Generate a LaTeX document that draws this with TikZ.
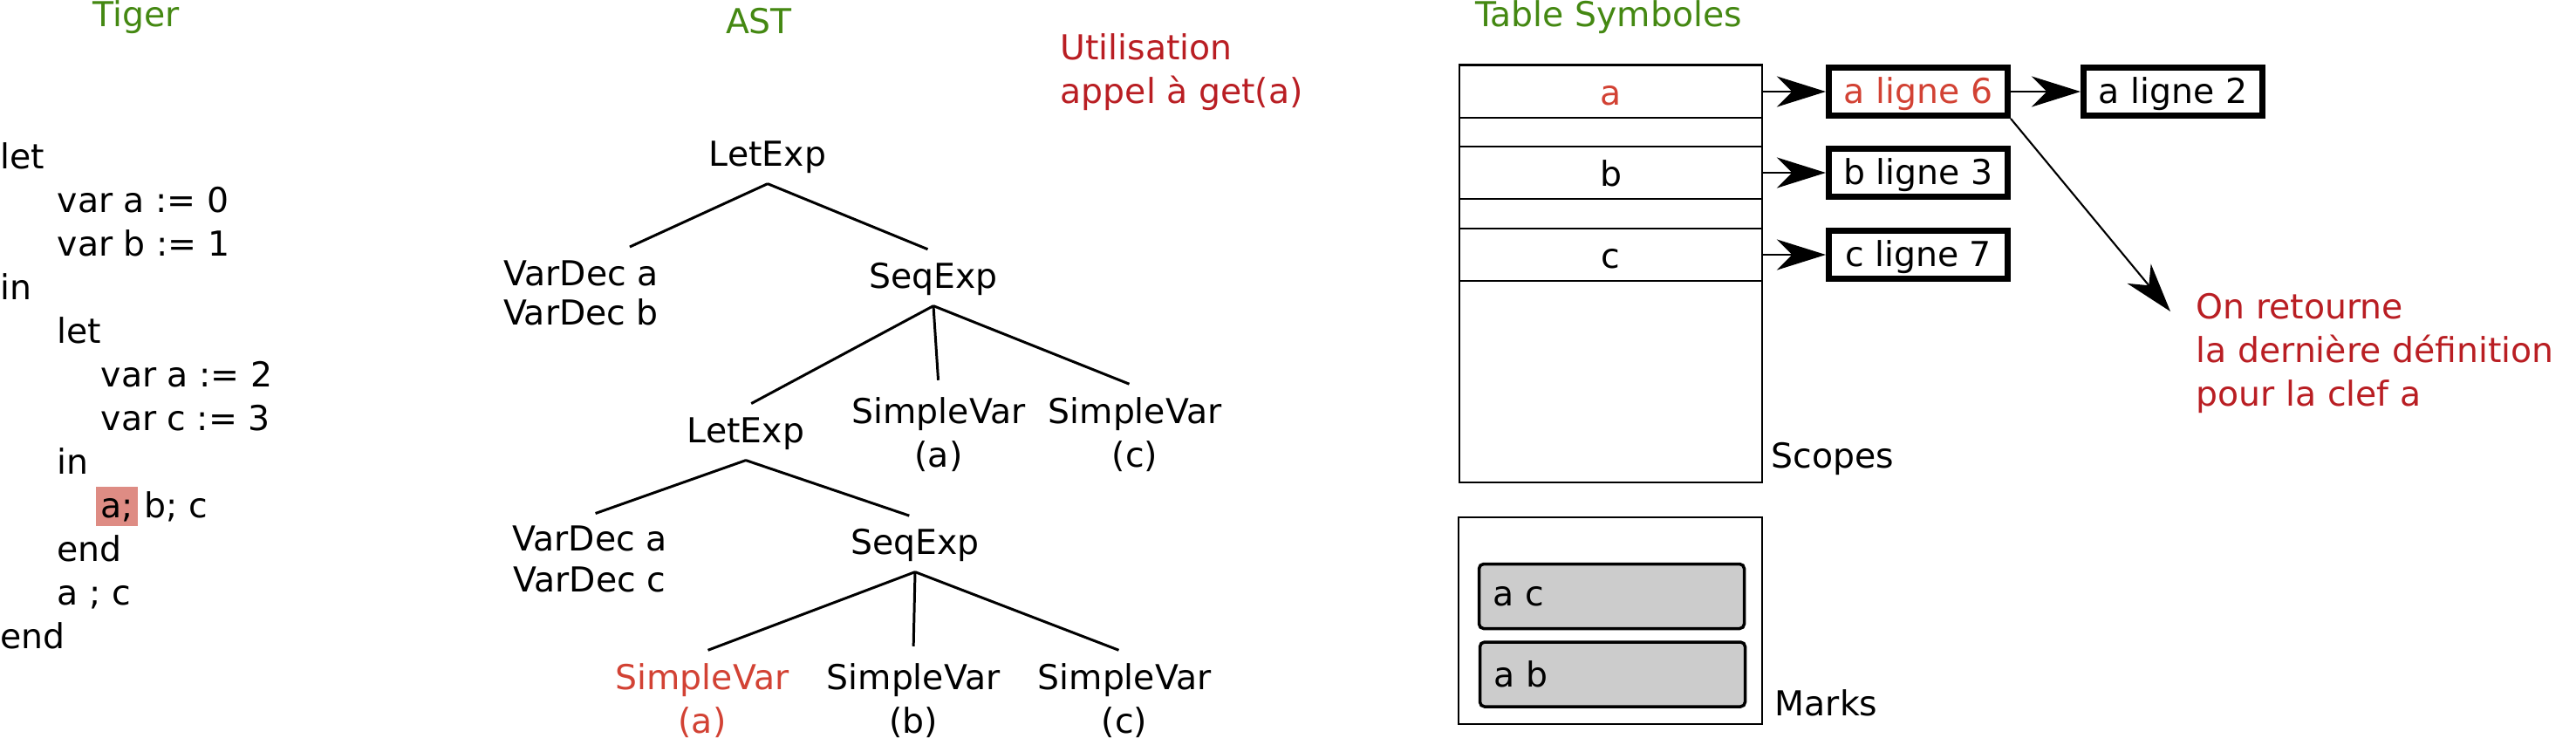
\documentclass[tikz,border=0pt]{standalone}
\usepackage{fontspec}
\setmainfont{DejaVu Sans}
\usetikzlibrary{arrows.meta}
\definecolor{titlegreen}{RGB}{68,136,18}
\definecolor{notered}{RGB}{185,30,35}
\definecolor{usered}{RGB}{210,66,52}
\definecolor{hlred}{RGB}{222,140,132}
\definecolor{markgray}{RGB}{204,204,204}
\newcommand\hlbox[1]{\kern-1.5pt{\fboxsep=1.5pt\colorbox{hlred}{\vphantom{l}#1}}\kern-1.5pt\relax}
\tikzset{
	codeline/.style = {anchor=base west, inner sep=0pt},
	heading/.style = {anchor=base, text=titlegreen},
	note/.style = {anchor=base west, align=left, inner sep=0pt, text=notered},
	ast/.style = {anchor=base, align=center},
	branch/.style = {line width=0.85pt, shorten >=2pt},
	slot/.style = {draw, line width=0.75pt, minimum width=3.47cm, minimum height=0.6cm, inner sep=0pt, text height=0.87em, text depth=0pt},
	defbox/.style = {draw, line width=2pt, minimum width=2.05cm, minimum height=0.55cm, inner sep=0pt, text height=0.87em, text depth=0.1em},
	ptr/.style = {-{Stealth[length=16pt, width=10pt, inset=5pt]}, line width=0.8pt},
	markbox/.style = {draw, fill=markgray, rounded corners=1.5pt, line width=1pt, minimum width=3.04cm, minimum height=0.74cm, text width=2.72cm, inner xsep=0.16cm, align=left},
	label/.style = {anchor=base west, inner sep=0pt}
}

\begin{document}
\begin{tikzpicture}[font=\fontsize{11.2pt}{14.2pt}\selectfont]
	\useasboundingbox (0,0) rectangle (29.53,-8.53);

	% Titles
	\node[heading] (tiger) at (1.56,-0.30) {Tiger};
	\node[heading] (ast) at (8.70,-0.38) {AST};
	\node[heading] (table) at (18.44,-0.30) {Table Symboles};
	\node[note] (use) at (12.15,-1.18) {Utilisation\\appel à get(a)};

	% Tiger source
	\foreach \ind/\txt [count=\i from 0] in {0/let, 0.65/var a := 0, 0.65/var b := 1, 0/in, 0.65/let, 1.15/var a := 2, 1.15/var c := 3, 0.65/in, 1.15/\hlbox{a;} b; c, 0.65/end, 0.65/a ; c, 0/end}
		\node[codeline] (l\i) at (\ind,{-1.93-0.5*\i}) {\txt};

	% AST (base = last line)
	\node[ast] (le1) at (8.80,-1.90) {LetExp};
	\node[ast, font=\fontsize{11.2pt}{12.8pt}\selectfont] (vd1) at (6.66,-3.72) {VarDec a\\VarDec b};
	\node[ast] (se1) at (10.70,-3.30) {SeqExp};
	\node[ast] (le2) at (8.55,-5.07) {LetExp};
	\node[ast] (sva) at (10.76,-5.35) {SimpleVar\\(a)};
	\node[ast] (svc) at (13.01,-5.35) {SimpleVar\\(c)};
	\node[ast, font=\fontsize{11.2pt}{13.1pt}\selectfont] (vd2) at (6.76,-6.78) {VarDec a\\VarDec c};
	\node[ast] (se2) at (10.49,-6.35) {SeqExp};
	\node[ast, text=usered] (sv1) at (8.05,-8.40) {SimpleVar\\(a)};
	\node[ast] (sv2) at (10.47,-8.40) {SimpleVar\\(b)};
	\node[ast] (sv3) at (12.89,-8.40) {SimpleVar\\(c)};

	\foreach \pa/\ch in {le1/vd1.45, le1/se1.north, se1/le2.north, se1/sva.north, se1/svc.north, le2/vd2.north, le2/se2.north, se2/sv1.north, se2/sv2.north, se2/sv3.north}
		\draw[branch] (\pa.south) -- (\ch);

	% Symbol table: scopes
	\node[draw, line width=0.75pt, minimum width=3.47cm, minimum height=4.79cm, inner sep=0pt] (scopes) at (18.465,-3.135) {};
	\node[slot, text=usered] (ra) at (18.465,-1.05) {a};
	\node[slot] (rb) at (18.465,-1.98) {b};
	\node[slot] (rc) at (18.465,-2.92) {c};
	\node[label] (scopeslbl) at (20.30,-5.36) {Scopes};

	\node[defbox, text=usered] (a6) at (21.99,-1.05) {a ligne 6};
	\node[defbox] (a2) at (24.91,-1.05) {a ligne 2};
	\node[defbox] (b3) at (21.99,-1.98) {b ligne 3};
	\node[defbox] (c7) at (21.99,-2.92) {c ligne 7};

	\draw[ptr] (ra.east) -- (a6.west);
	\draw[ptr] (a6.east) -- (a2.west);
	\draw[ptr] (rb.east) -- (b3.west);
	\draw[ptr] (rc.east) -- (c7.west);

	% Lookup result
	\node[note] (ret) at (25.17,-4.65) {On retourne\\la dernière définition\\pour la clef a};
	\coordinate (tip) at (24.88,-3.57);
	\draw[ptr, line width=0.6pt] (a6.south east) -- (tip);

	% Marks
	\node[draw, line width=0.75pt, minimum width=3.48cm, minimum height=2.37cm, inner sep=0pt] (marks) at (18.46,-7.115) {};
	\node[markbox] (mac) at (18.475,-6.835) {a c};
	\node[markbox] (mab) at (18.485,-7.73) {a b};
	\node[label] (markslbl) at (20.34,-8.20) {Marks};
\end{tikzpicture}
\end{document}
